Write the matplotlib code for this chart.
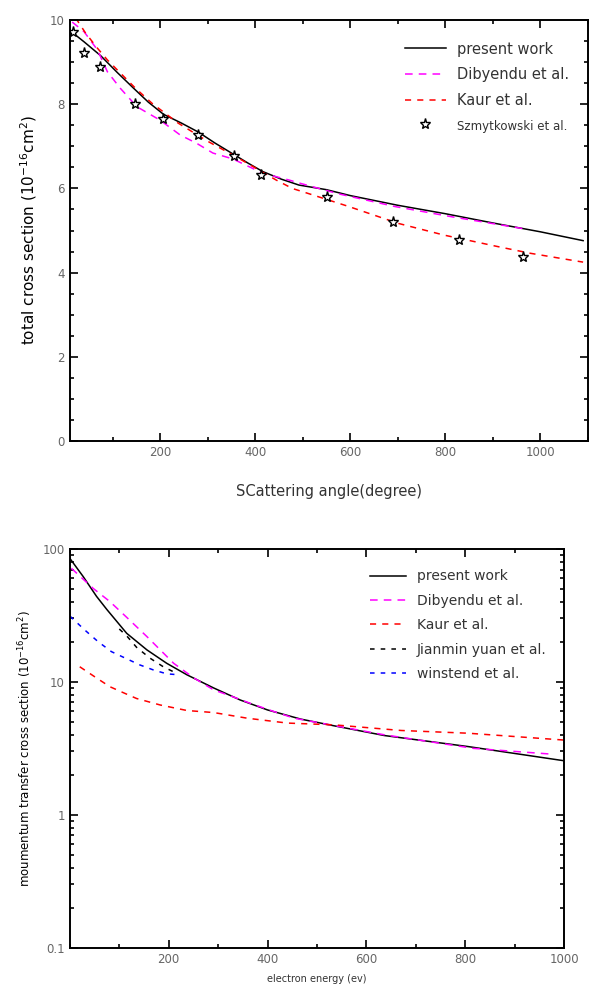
import numpy as np
import matplotlib
matplotlib.use('Agg')
import matplotlib.pyplot as plt
from matplotlib.ticker import MultipleLocator, FixedLocator, NullFormatter, FuncFormatter

# ---- top panel: total cross section ----
pw_x = [10, 40, 75, 110, 144, 175, 207, 245, 280, 315, 353, 385, 416, 455, 492, 550, 600, 700, 800, 900, 1000, 1090]
pw_y = [9.75, 9.48, 9.15, 8.75, 8.38, 8.05, 7.76, 7.55, 7.34, 7.08, 6.82, 6.60, 6.40, 6.22, 6.08, 5.97, 5.83, 5.60, 5.40, 5.18, 4.97, 4.76]

dib_x = [15, 40, 68, 89, 116, 151, 200, 242, 277, 311, 353, 416, 471, 492, 576, 694, 812, 972]
dib_y = [9.95, 9.72, 9.29, 8.77, 8.38, 7.94, 7.62, 7.27, 7.07, 6.84, 6.70, 6.36, 6.20, 6.13, 5.87, 5.57, 5.33, 5.03]

kaur_x = [22, 43, 68, 89, 148, 183, 238, 300, 360, 444, 478, 506, 597, 701, 798, 910, 979, 1090]
kaur_y = [10.05, 9.69, 9.33, 9.05, 8.38, 8.02, 7.55, 7.12, 6.75, 6.20, 6.00, 5.90, 5.57, 5.17, 4.89, 4.62, 4.46, 4.25]

szm_x = [16, 40, 73, 148, 206, 280, 355, 412, 551, 689, 828, 964]
szm_y = [9.72, 9.21, 8.89, 8.00, 7.66, 7.27, 6.77, 6.32, 5.79, 5.21, 4.77, 4.38]

# ---- bottom panel: momentum transfer cross section ----
mpw_x = [0, 27, 54, 75, 115, 156, 196, 237, 291, 345, 400, 467, 535, 636, 806, 1000]
mpw_y = [85, 62, 44, 35, 23.2, 17.4, 13.8, 11.3, 9.0, 7.3, 6.15, 5.25, 4.67, 3.95, 3.26, 2.55]

mdib_x = [3, 47, 81, 115, 156, 210, 251, 291, 325, 365, 413, 454, 502, 636, 817, 975]
mdib_y = [71.6, 50.6, 40.2, 30.6, 21.9, 13.8, 10.7, 8.7, 7.85, 6.9, 5.98, 5.33, 4.94, 4.0, 3.16, 2.86]

mkaur_x = [20, 54, 81, 108, 135, 183, 237, 291, 359, 440, 535, 670, 806, 1000]
mkaur_y = [13.0, 10.7, 9.2, 8.3, 7.5, 6.7, 6.09, 5.88, 5.33, 4.9, 4.75, 4.31, 4.11, 3.65]

jian_x = [100, 115, 135, 162, 189, 216]
jian_y = [25.0, 22.2, 18.2, 15.1, 13.0, 11.6]

win_x = [0, 30, 57, 84, 112, 142, 169, 196, 222]
win_y = [31.3, 24.6, 20.1, 16.9, 15.1, 13.4, 12.3, 11.5, 11.3]

txt = '#333333'
tick_c = '#666666'

fig = plt.figure(figsize=(5.92, 9.98), dpi=100)

ax1 = fig.add_axes([0.118, 0.558, 0.875, 0.422])
ax1.plot(pw_x, pw_y, color='black', lw=1.1, label='present work')
ax1.plot(dib_x, dib_y, color='magenta', lw=1.1, ls=(0, (5, 4)), label='Dibyendu et al.')
ax1.plot(kaur_x, kaur_y, color='red', lw=1.1, ls=(0, (4, 4)), label='Kaur et al.')
ax1.plot(szm_x, szm_y, ls='none', marker='*', ms=8, mfc='white', mec='black', mew=1.0,
         label='Szmytkowski et al.')
ax1.set_xlim(10, 1100)
ax1.set_ylim(0, 10)
ax1.xaxis.set_major_locator(FixedLocator([200, 400, 600, 800, 1000]))
ax1.xaxis.set_minor_locator(MultipleLocator(100))
ax1.yaxis.set_major_locator(MultipleLocator(2))
ax1.yaxis.set_minor_locator(MultipleLocator(0.5))
ax1.set_xlabel('SCattering angle(degree)', fontsize=10.5, color=txt, labelpad=18)
ax1.set_ylabel('total cross section (10$^{-16}$cm$^{2}$)', fontsize=11, color='black', labelpad=8)
leg1 = ax1.legend(loc='upper right', frameon=False, fontsize=10.5, handlelength=2.8,
                  labelspacing=0.75, bbox_to_anchor=(0.99, 0.98), labelcolor=txt)
for t in leg1.get_texts()[3:]:
    t.set_fontsize(8.5)

ax2 = fig.add_axes([0.118, 0.0504, 0.835, 0.3995])
ax2.plot(mpw_x, mpw_y, color='black', lw=1.1, label='present work')
ax2.plot(mdib_x, mdib_y, color='magenta', lw=1.1, ls=(0, (5, 4)), label='Dibyendu et al.')
ax2.plot(mkaur_x, mkaur_y, color='red', lw=1.1, ls=(0, (4, 4)), label='Kaur et al.')
ax2.plot(jian_x, jian_y, color='black', lw=1.1, ls=(0, (3, 4)), label='Jianmin yuan et al.')
ax2.plot(win_x, win_y, color='blue', lw=1.1, ls=(0, (3, 4)), label='winstend et al.')
ax2.set_yscale('log')
ax2.set_xlim(0, 1000)
ax2.set_ylim(0.1, 100)
ax2.xaxis.set_major_locator(FixedLocator([200, 400, 600, 800, 1000]))
ax2.xaxis.set_minor_locator(MultipleLocator(100))
ax2.yaxis.set_major_formatter(FuncFormatter(lambda v, p: '%g' % v))
ax2.yaxis.set_minor_formatter(NullFormatter())
ax2.set_xlabel('electron energy (ev)', fontsize=7, color=txt, labelpad=6)
ax2.set_ylabel('moumentum transfer cross section (10$^{-16}$cm$^{2}$)', fontsize=8.5,
               color='black', labelpad=6)
ax2.legend(loc='upper right', frameon=False, fontsize=10, handlelength=2.6,
           labelspacing=0.75, bbox_to_anchor=(0.99, 0.98), labelcolor=txt)

for ax in (ax1, ax2):
    for s in ax.spines.values():
        s.set_linewidth(1.4)
    ax.tick_params(which='both', direction='in', top=True, right=True, labelsize=8.5,
                   labelcolor=tick_c, width=1.2)
    ax.tick_params(which='major', length=6)
    ax.tick_params(which='minor', length=3)

fig.savefig('out.png', dpi=100)
